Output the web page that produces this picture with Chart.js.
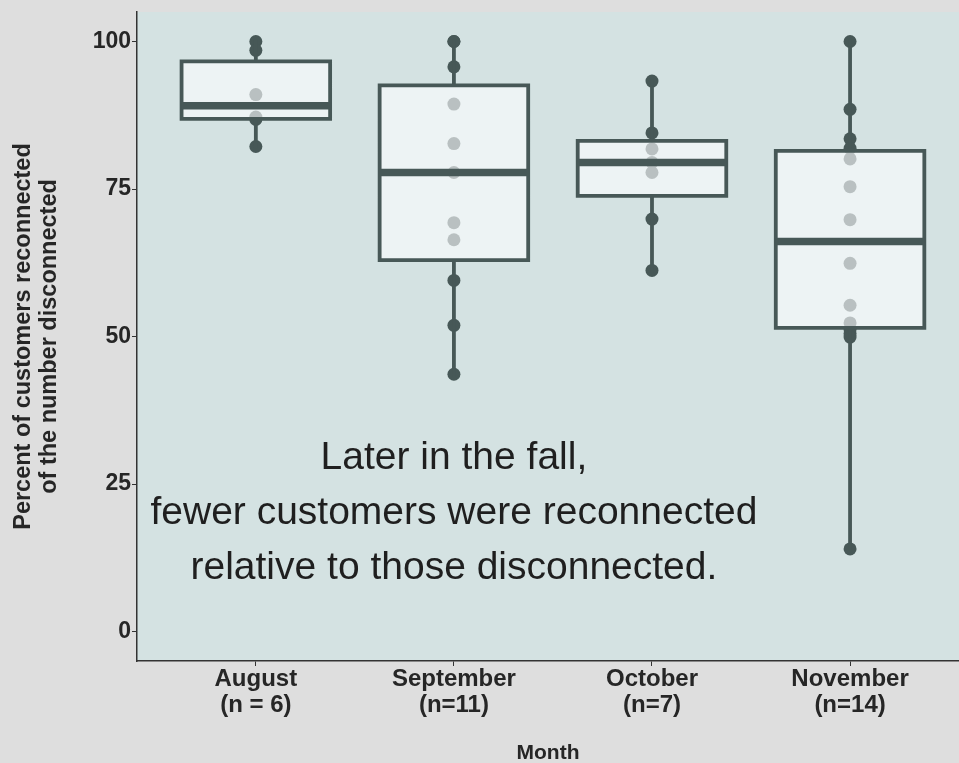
<!DOCTYPE html>
<html>
<head>
<meta charset="utf-8">
<title>Customers reconnected by month</title>
<script src="https://cdn.jsdelivr.net/npm/chart.js@4.4.1/dist/chart.umd.min.js"></script>
<style>
  html, body { margin: 0; padding: 0; background: #dedede; overflow: hidden; }
  #wrap { width: 959px; height: 763px; }
</style>
</head>
<body>
<div id="wrap"><canvas id="chart" width="959" height="763"></canvas></div>
<script>
// Months on the x axis and their sample sizes
const months = ['August', 'September', 'October', 'November'];
const sampleSizes = ['(n = 6)', '(n=11)', '(n=7)', '(n=14)'];

// Percent of customers reconnected, one value per observation
const augustPct    = [100, 98.5, 91, 87.2, 86.8, 82.2];
const septemberPct = [100, 100, 95.7, 89.4, 82.7, 77.8, 69.3, 66.4, 59.5, 51.9, 43.6];
const octoberPct   = [93.3, 84.5, 81.8, 79.5, 77.8, 69.9, 61.2];
const novemberPct  = [100, 88.5, 83.5, 81.9, 80.1, 75.4, 69.8, 62.4, 55.3, 52.3, 51.2, 50.5, 49.9, 14];

const yTickValues = [0, 25, 50, 75, 100];

const noteLines = [
  'Later in the fall,',
  'fewer customers were reconnected',
  'relative to those disconnected.'
];

const groups = [augustPct, septemberPct, octoberPct, novemberPct];

const DARK = '#475857';
const PANEL = '#d4e2e2';
const TEXT = '#262626';
const HALF_BOX = 0.375;

// Linear-interpolated quantile (R type 7)
function quantile(sorted, p) {
  const h = (sorted.length - 1) * p;
  const lo = Math.floor(h), hi = Math.ceil(h);
  return sorted[lo] + (sorted[hi] - sorted[lo]) * (h - lo);
}

const stats = groups.map(vals => {
  const s = [...vals].sort((a, b) => a - b);
  const q1 = quantile(s, 0.25), med = quantile(s, 0.5), q3 = quantile(s, 0.75);
  const iqr = q3 - q1;
  const lowFence = q1 - 1.5 * iqr, highFence = q3 + 1.5 * iqr;
  const lo = Math.min(...s.filter(v => v >= lowFence));
  const hi = Math.max(...s.filter(v => v <= highFence));
  return { q1, med, q3, lo, hi };
});

const pointData = [];
groups.forEach((vals, i) => vals.forEach(v => pointData.push({ x: i + 1, y: v })));

const boxFill = stats.map((s, i) => ({ x: i + 1, y: [s.q1, s.q3] }));

const outlinePath = [];
const medianPath = [];
stats.forEach((s, i) => {
  const c = i + 1, l = c - HALF_BOX, r = c + HALF_BOX;
  outlinePath.push(
    { x: l, y: s.q3 }, { x: r, y: s.q3 }, { x: r, y: s.q1 }, { x: l, y: s.q1 }, { x: l, y: s.q3 },
    { x: c, y: null },
    { x: c, y: s.q3 }, { x: c, y: s.hi },
    { x: c, y: null },
    { x: c, y: s.q1 }, { x: c, y: s.lo },
    { x: c, y: null }
  );
  medianPath.push({ x: l, y: s.med }, { x: r, y: s.med }, { x: c, y: null });
});

const panelBackground = {
  id: 'panelBackground',
  beforeDraw(chart) {
    const { ctx, chartArea: a } = chart;
    ctx.save();
    ctx.fillStyle = PANEL;
    ctx.fillRect(a.left, a.top, a.right - a.left, a.bottom - a.top);
    ctx.restore();
  }
};

const noteText = {
  id: 'noteText',
  afterDatasetsDraw(chart) {
    const { ctx, scales: { x, y } } = chart;
    const cx = x.getPixelForValue(2);
    const cy = y.getPixelForValue(20);
    const step = 55;
    ctx.save();
    ctx.font = '39px "Liberation Sans", Arial, sans-serif';
    ctx.fillStyle = '#1f1f1f';
    ctx.textAlign = 'center';
    ctx.textBaseline = 'middle';
    noteLines.forEach((t, k) => ctx.fillText(t, cx, cy + (k - 1) * step));
    ctx.restore();
  }
};

const fontFamily = '"Liberation Sans", Arial, sans-serif';

new Chart(document.getElementById('chart'), {
  type: 'scatter',
  data: {
    datasets: [
      {
        type: 'line',
        data: medianPath,
        borderColor: DARK,
        borderWidth: 7.5,
        pointRadius: 0,
        fill: false,
        spanGaps: false,
        borderCapStyle: 'butt',
        order: 1
      },
      {
        type: 'line',
        data: outlinePath,
        borderColor: DARK,
        borderWidth: 3.8,
        pointRadius: 0,
        fill: false,
        spanGaps: false,
        borderJoinStyle: 'miter',
        borderCapStyle: 'square',
        order: 2
      },
      {
        type: 'bar',
        data: boxFill,
        backgroundColor: 'rgba(251,252,253,0.64)',
        borderWidth: 0,
        barPercentage: 0.75,
        categoryPercentage: 1,
        order: 3
      },
      {
        type: 'scatter',
        data: pointData,
        backgroundColor: DARK,
        borderWidth: 0,
        pointRadius: 6.5,
        order: 4
      }
    ]
  },
  options: {
    responsive: false,
    animation: false,
    events: [],
    layout: { autoPadding: false, padding: { top: 12, right: 0, bottom: 0, left: 0 } },
    plugins: { legend: { display: false }, tooltip: { enabled: false } },
    scales: {
      x: {
        type: 'linear',
        min: 0.4,
        max: 4.55,
        offset: false,
        afterBuildTicks: axis => { axis.ticks = months.map((m, i) => ({ value: i + 1 })); },
        afterFit: scale => {
          scale.height = 102;
          scale.paddingLeft = 0;
          scale.paddingRight = 0;
        },
        ticks: {
          autoSkip: false,
          maxRotation: 0,
          padding: 0,
          color: TEXT,
          font: { family: fontFamily, size: 24, weight: 'bold', lineHeight: 1.1 },
          callback: (value, index) => [months[index], sampleSizes[index]]
        },
        grid: { display: true, drawOnChartArea: false, drawTicks: true, tickLength: 5, color: '#333333', offset: false },
        border: { display: true, color: '#333333', width: 1.5 },
        title: {
          display: true,
          text: 'Month',
          color: TEXT,
          font: { family: fontFamily, size: 21, weight: 'bold', lineHeight: 0.9 },
          padding: { top: 0, bottom: 0 }
        }
      },
      y: {
        type: 'linear',
        min: -5,
        max: 105,
        afterBuildTicks: axis => { axis.ticks = yTickValues.map(v => ({ value: v })); },
        afterFit: scale => {
          scale.width = 137;
          scale.paddingTop = 0;
          scale.paddingBottom = 0;
        },
        ticks: { padding: 1, color: TEXT, font: { family: fontFamily, size: 23, weight: 'bold' } },
        grid: { display: true, drawOnChartArea: false, drawTicks: true, tickLength: 5, color: '#333333' },
        border: { display: true, color: '#333333', width: 1.5 },
        title: {
          display: true,
          text: ['Percent of customers reconnected', 'of the number disconnected'],
          color: TEXT,
          font: { family: fontFamily, size: 23.5, weight: 'bold', lineHeight: 1.12 },
          padding: { top: 10, bottom: 0 }
        }
      }
    }
  },
  plugins: [panelBackground, noteText]
});
</script>
</body>
</html>
